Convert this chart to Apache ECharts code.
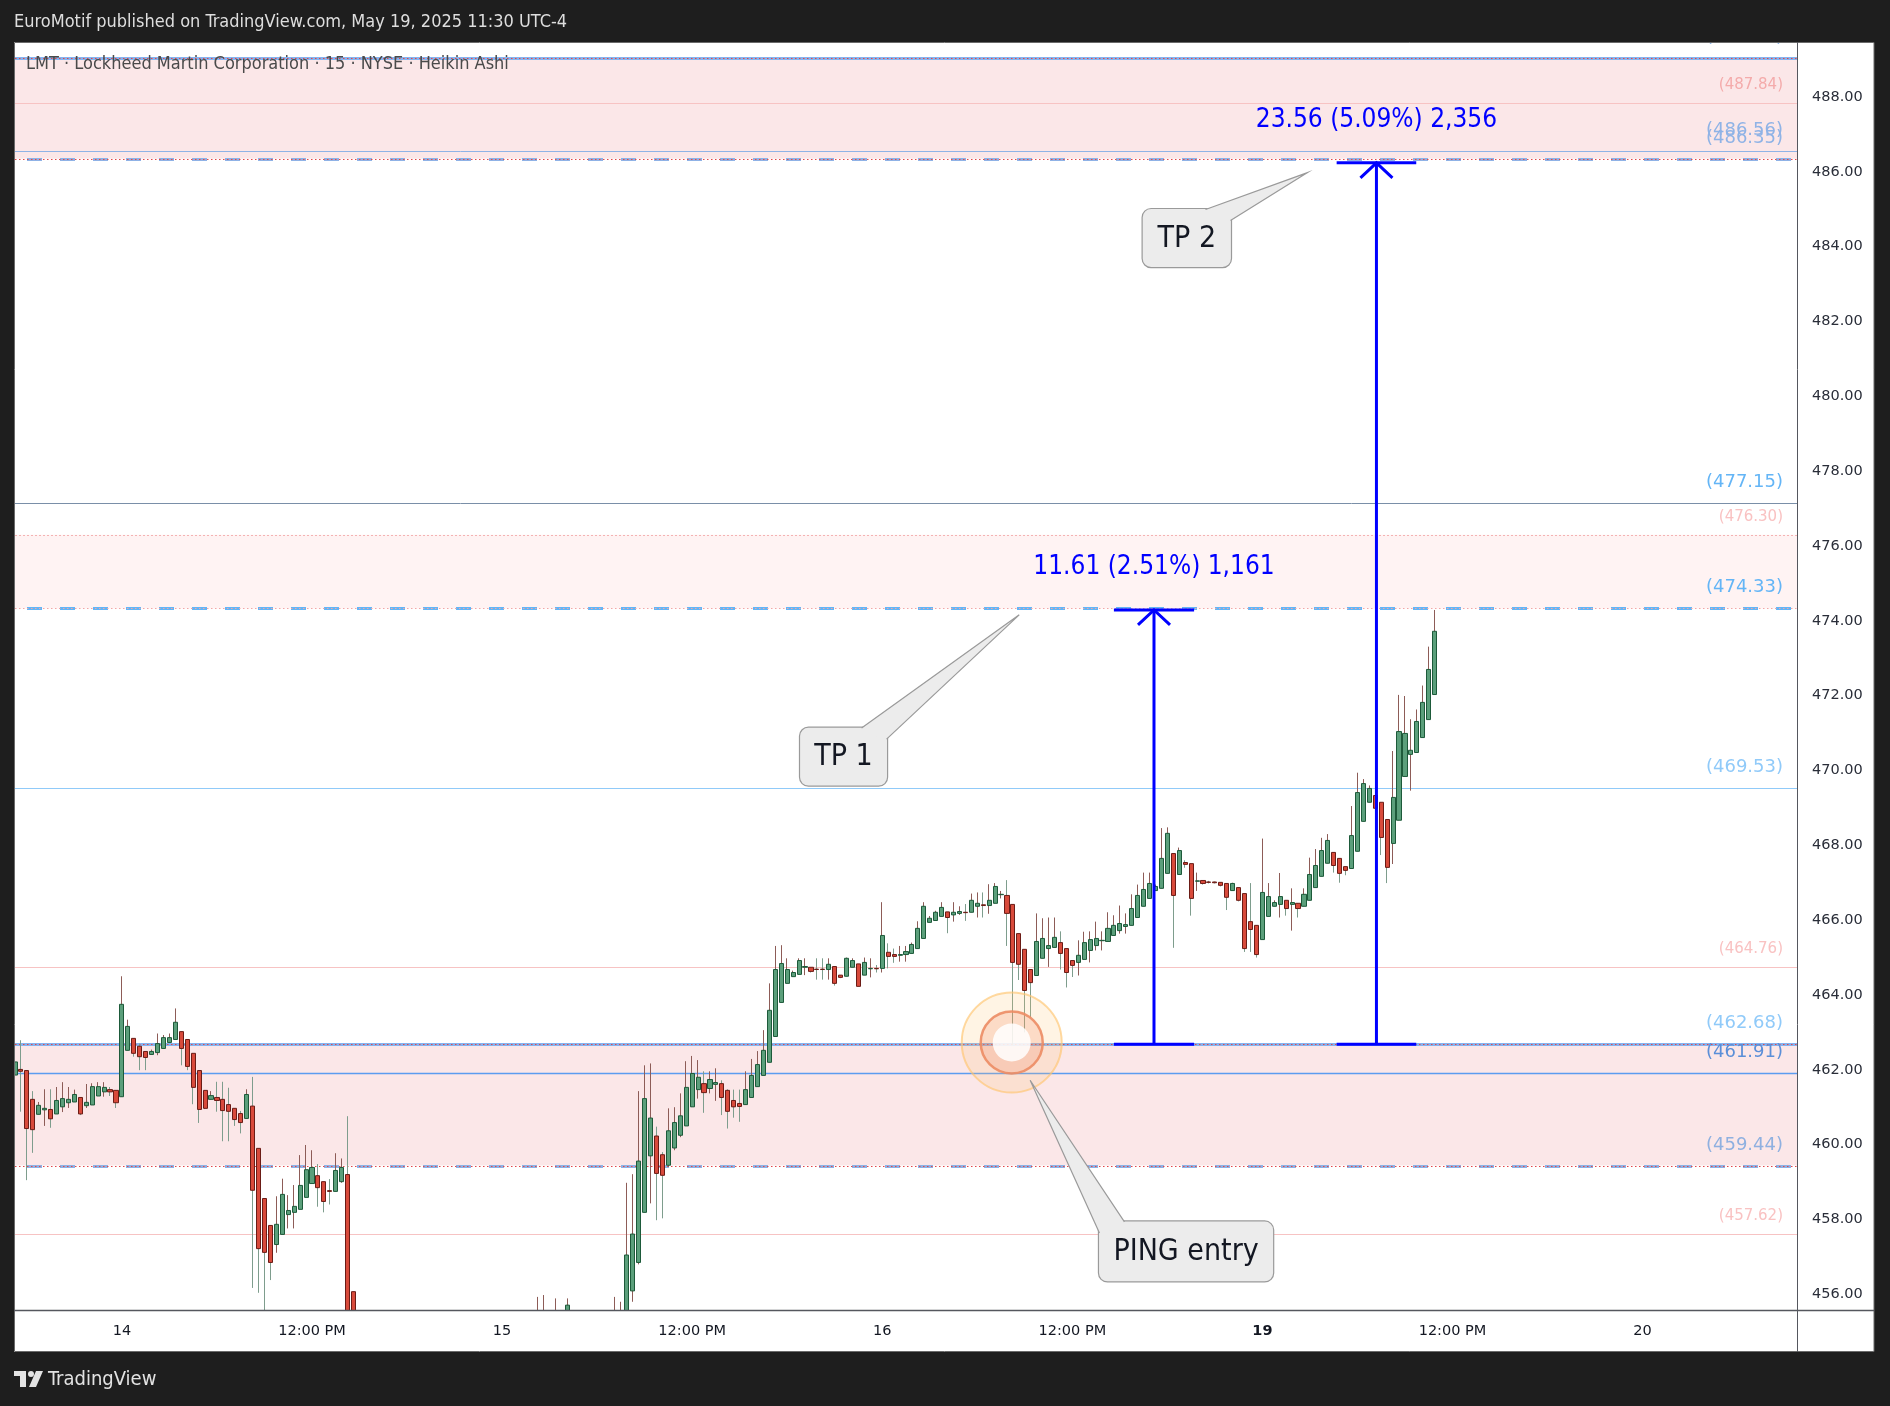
<!DOCTYPE html>
<html><head><meta charset="utf-8">
<script src="https://cdn.jsdelivr.net/npm/echarts@6/dist/echarts.min.js"></script>
<style>html,body{margin:0;padding:0;background:#1e1e1e;}#c{width:1890px;height:1406px;}</style>
</head><body><div id="c"></div>
<script>
// ---------- DATA ----------
// Heikin Ashi 15-min candles [open, close, low, high]; null = bar entirely below the visible price range
const may13 = [
 [461.86,462.21,461.80,462.30],[462.01,461.96,460.88,462.79],[461.98,460.43,459.05,461.98],[461.21,460.40,459.78,461.43],
 [460.81,461.05,460.81,461.14],[460.93,460.97,460.50,461.48],[460.94,460.69,460.45,461.48],[460.82,461.18,460.82,461.54],
 [461.01,461.23,460.87,461.67],[461.12,461.21,460.98,461.54],[461.14,461.34,461.14,461.47],[461.26,460.82,460.79,461.26],
 [461.04,461.13,460.98,461.62],[461.06,461.55,461.06,461.64],[461.30,461.55,461.30,461.67],[461.41,461.53,461.28,461.67],
 [461.47,461.41,461.30,461.54],[461.45,461.12,460.98,461.45]
];
const may14 = [
 [461.28,463.75,461.28,464.50],[462.52,463.16,462.52,463.34],[462.84,462.44,462.35,462.84],[462.63,462.35,461.99,462.70],
 [462.49,462.33,461.99,462.49],[462.41,462.49,462.41,462.54],[462.46,462.70,462.39,462.97],[462.57,462.86,462.57,462.93],
 [462.73,462.86,462.73,462.97],[462.81,463.27,462.81,463.64],[463.02,462.57,462.12,463.02],[462.81,462.09,461.99,462.81],
 [462.44,461.53,461.08,462.44],[461.98,460.94,460.58,461.98],[461.45,460.97,460.95,461.45],[461.21,461.31,461.21,461.43],
 [461.26,461.18,460.88,461.68],[461.21,460.91,460.09,461.68],[461.07,460.89,460.09,461.52],[460.97,460.67,460.50,460.97],
 [460.83,460.59,460.30,460.90],[460.70,461.34,460.70,461.48],[461.03,458.78,456.17,461.81],[459.90,457.22,456.04,459.90],
 [458.56,457.12,455.40,458.56],[457.84,456.85,456.38,457.84],[457.33,457.87,457.11,458.62],[457.60,458.67,457.60,459.09],
 [458.13,458.24,457.76,458.65],[458.19,458.35,457.76,458.92],[458.27,458.91,458.27,459.72],[458.59,459.33,458.59,459.99],
 [458.96,459.39,458.96,459.85],[459.17,458.85,458.34,459.48],[459.01,458.48,458.19,459.01],[458.77,458.75,458.40,459.08],
 [458.75,459.31,458.75,459.77],[459.01,459.39,458.98,459.63],[459.20,452.94,452.00,460.76],[456.07,452.00,451.00,456.07],
 null,null,null,null,null,null,null,null,null,null,null,null,
 null,null,null,null,null,null,null,null,null,null,null,null
];
const may15 = [
 null,null,null,null,null,null,
 [454.80,455.20,454.50,455.93],[455.00,455.30,454.80,455.98],null,[455.10,455.40,454.90,455.89],null,
 [455.00,455.71,454.90,455.89],null,null,null,null,null,null,null,
 [454.90,455.30,454.60,455.93],[455.00,455.40,454.80,455.80],
 [455.13,457.05,455.00,458.98],[456.09,457.61,455.80,459.21],[456.85,459.56,456.80,461.43],[458.19,461.23,458.19,462.12],
 [459.70,460.71,458.43,462.17],[460.23,459.23,457.98,460.48],[459.73,459.18,458.03,459.80],[459.45,460.37,459.40,460.97],
 [459.91,460.59,459.85,461.00],[460.25,460.77,460.20,461.37],[460.50,461.53,460.50,462.23],[461.01,461.90,461.01,462.37],
 [461.47,461.80,461.23,462.26],[461.63,461.39,460.85,461.96],[461.50,461.74,461.37,461.96],[461.61,461.66,461.17,462.04],
 [461.63,461.26,460.79,461.72],[461.45,460.89,460.43,461.48],[461.18,461.01,460.72,461.47],[461.10,461.02,460.61,461.47],
 [461.07,461.47,461.07,461.96],[461.26,461.85,461.26,462.29],[461.55,462.14,461.55,462.50],[461.85,462.52,461.85,463.06],
 [462.20,463.59,462.20,464.31],[462.89,464.68,462.89,465.31],[463.80,464.84,463.80,465.33],[464.31,464.68,464.31,464.98],
 [464.49,464.60,464.49,464.65],[464.55,464.92,464.55,464.98],[464.74,464.76,464.53,464.98],[464.74,464.63,464.60,464.74],
 [464.69,464.68,464.41,464.98],[464.69,464.68,464.41,464.98],[464.68,464.82,464.41,464.98],[464.76,464.31,464.25,464.76],
 [464.53,464.47,464.45,464.53],[464.50,464.98,464.50,465.00],[464.74,464.92,464.74,464.98],[464.83,464.23,464.23,464.83],
 [464.53,464.87,464.53,465.00],[464.70,464.71,464.47,464.98],[464.71,464.70,464.60,464.80]
];
const may16 = [
 [464.71,465.59,464.60,466.48],[465.14,465.03,464.71,465.38],[465.08,465.03,464.86,465.24],[465.06,465.08,464.89,465.31],
 [465.08,465.16,464.89,465.31],[465.11,465.35,465.11,465.40],[465.24,465.78,465.24,465.97],[465.51,466.37,465.51,466.48],
 [465.94,466.05,465.94,466.11],[465.99,466.21,465.99,466.25],[466.10,466.34,466.10,466.48],[466.22,466.07,465.65,466.22],
 [466.14,466.21,465.96,466.48],[466.18,466.23,466.14,466.37],[466.21,466.20,465.98,466.43],[466.21,466.53,466.21,466.71],
 [466.37,466.45,466.07,466.74],[466.41,466.39,466.07,466.74],[466.39,466.53,466.17,466.96],[466.45,466.90,466.45,466.99],
 [466.68,466.69,466.58,466.78],[466.66,466.18,465.31,467.07],[466.42,464.87,462.66,466.42],[465.64,464.82,464.40,465.64],
 [465.22,464.12,463.00,465.22],[464.68,464.33,463.40,464.68],[464.52,465.43,464.52,466.18],[464.98,465.51,464.98,466.05],
 [465.24,465.32,464.75,466.07],[465.27,465.54,465.27,466.07],[465.40,465.11,464.68,465.70],[465.24,464.60,464.20,465.24],
 [464.92,464.79,464.48,464.92],[464.87,465.06,464.52,465.46],[464.95,465.40,464.95,465.69],[465.19,465.48,464.87,465.70],
 [465.32,465.51,465.19,465.96],[465.45,465.46,465.19,465.70],[465.43,465.78,465.43,466.21],[465.59,465.86,465.59,466.13],
 [465.72,465.91,465.64,466.39],[465.83,465.88,465.64,466.18],[465.86,466.31,465.86,466.69],[466.07,466.66,466.07,466.95],
 [466.37,466.82,466.37,467.27],[466.58,466.98,466.58,467.27],[466.79,466.90,466.79,466.95],[466.85,467.65,466.85,468.46],
 [467.25,468.32,467.25,468.48],[467.78,466.66,465.26,467.78],[467.22,467.86,467.22,467.94],[467.54,467.49,467.40,467.60],
 [467.51,466.58,466.12,467.51],[467.04,467.05,466.78,467.27],[467.06,466.98,466.95,467.06],[467.02,467.01,466.98,467.05],
 [467.02,467.00,466.98,467.03],[467.01,466.93,466.90,467.01],[466.98,466.61,466.27,466.98],[466.79,466.98,466.79,467.00],
 [466.87,466.53,466.50,466.87],[466.71,465.24,465.15,466.71],[465.96,465.75,465.15,466.99],[465.86,465.08,465.00,465.86]
];
const may19 = [
 [465.48,466.74,465.48,468.18],[466.10,466.63,466.10,466.99],[466.37,466.47,466.37,466.53],[466.42,466.63,466.07,467.26],
 [466.53,466.31,466.12,466.53],[466.42,466.47,465.72,466.85],[466.45,466.31,466.07,466.45],[466.37,466.69,466.37,466.85],
 [466.53,467.22,466.53,467.67],[466.87,467.46,466.87,467.90],[467.17,467.86,467.17,468.20],[467.52,468.13,467.52,468.30],
 [467.81,467.46,467.27,467.81],[467.65,467.25,467.00,467.65],[467.43,467.33,467.20,467.43],[467.38,468.26,467.38,469.05],
 [467.84,469.41,467.84,469.94],[468.64,469.65,468.64,469.77],[469.15,469.52,469.15,469.60],[469.33,468.99,468.90,469.33],
 [469.15,468.21,467.74,469.15],[468.69,467.41,466.99,468.69],[468.05,469.28,467.50,470.52],[468.67,471.04,468.67,472.02],
 [469.84,470.99,469.84,471.99],[470.43,470.54,469.46,471.37],[470.48,471.31,470.48,471.63],[470.88,471.82,470.88,472.27],
 [471.36,472.70,471.36,473.31],[472.03,473.72,472.03,474.29]
];
// time slots (15 min, 04:00-20:00 sessions), first slot = May 13 15:30
const sessionDays = ['13','14','15','16','19','20'];
const sessionSlotRange = [[46,63],[0,63],[0,63],[0,63],[0,63],[0,26]];
// x tick labels (k = slot index relative to May 14 04:00)
const xTickK = [0,32,64,96,128,160,192,224,256];
const xTickText = ['14','12:00 PM','15','12:00 PM','16','12:00 PM','19','12:00 PM','20'];
// y tick labels
const yTicks = [456,458,460,462,464,466,468,470,472,474,476,478,480,482,484,486,488];
// horizontal levels and zones
const levelValues = [489.04,487.84,486.56,486.35,477.15,476.30,474.33,469.53,464.76,462.68,461.91,459.44,457.62];
const zoneBounds = [[489.04,486.35],[476.30,474.33],[462.68,459.44]];
// measurement / annotation values
const entryPrice = 462.68;
const tp1Price = 474.29, tp2Price = 486.24;
const tp1Text = '11.61 (2.51%) 1,161';
const tp2Text = '23.56 (5.09%) 2,356';
const calloutTexts = ['TP 2','TP 1','PING entry'];

// ---------- BUILD ----------
const categories = [];
sessionDays.forEach((d, i) => {
  for (let j = sessionSlotRange[i][0]; j <= sessionSlotRange[i][1]; j++) {
    const m = 240 + j * 15, h = Math.floor(m / 60), mm = m % 60;
    categories.push('May ' + d + ' ' + String(h).padStart(2,'0') + ':' + String(mm).padStart(2,'0'));
  }
});
const OFF = 18; // category index of k = 0 (May 14 04:00)
const candles = [].concat(may13, may14, may15, may16, may19);
const EMPTY = ['-','-','-','-'];
const wickData = candles.map(d => d ? d.slice() : EMPTY);
const bodyData = candles.map(d => d ? [d[0], d[1], Math.min(d[0], d[1]), Math.max(d[0], d[1])] : EMPTY);
const tickMap = {};
xTickK.forEach((k, i) => { tickMap[k + OFF] = xTickText[i]; });

// styles (kept apart from data)
const zoneFill = ['#fbe7e8', '#fff3f3', '#fbe7e8'];
const levelStyle = ['zoneTop','pink','blueThin','zoneDash','blue477','pinkDot','blueDash','lightBlue','pink','zoneTop','blueMid','zoneDash','pink'];
const labelColor = ['#8db6ea','#f4abab','#8fb3e6','#8fb3e6','#64b5f6','#f9c2c2','#64b5f6','#90caf9','#f9c2c2','#90caf9','#5b8fd8','#8fb0e0','#f9c2c2'];
const labelSize = [18,15,18,18,18,15,18,18,15,18,18,18,15];
const anno = {
  tp1Range: [167.0, 180.5], tp2Range: [204.5, 217.9],
  circle: [149.8, 462.73],
  callouts: [
    {box: [171.75, 485.02, 186.8, 483.44], tip: [199.6, 485.98], side: 'tr'},
    {box: [114.07, 471.16, 128.9, 469.58], tip: [151.06, 474.16], side: 'tr'},
    {box: [164.4, 457.96, 193.9, 456.33], tip: [152.9, 461.72], side: 'tl'}
  ]
};
const COND = "'DejaVu Sans Condensed', Roboto, sans-serif";

function px(api, k, v) {
  const i = k + OFF, i0 = Math.floor(i), f = i - i0;
  const p0 = api.coord([i0, v]);
  if (f === 0) return p0;
  const p1 = api.coord([i0 + 1, v]);
  return [p0[0] + f * (p1[0] - p0[0]), p0[1]];
}
function L(x1, y1, x2, y2, stroke, w, dash) {
  return {type: 'line', shape: {x1, y1, x2, y2}, style: {stroke, lineWidth: w, lineDash: dash || null}};
}

function renderLevels(params, api) {
  const cs = params.coordSys;
  const x0 = cs.x, x1 = cs.x + cs.width;
  const Y = v => api.coord([0, v])[1];
  const ch = [];
  zoneBounds.forEach((b, i) => {
    const ya = Y(b[0]), yb = Y(b[1]);
    ch.push({type: 'rect', shape: {x: x0, y: ya, width: x1 - x0, height: yb - ya}, style: {fill: zoneFill[i]}});
  });
  levelValues.forEach((v, i) => {
    const y = Math.round(Y(v)) + 0.5;
    const st = levelStyle[i];
    const redDot = [1.5, 2.5];
    if (st === 'zoneTop') {
      ch.push(L(x0, y, x1, y, '#86b3ef', 3));
      ch.push(L(x0, y, x1, y, '#e2464a', 1, redDot));
    } else if (st === 'zoneDash') {
      ch.push(L(x0 + 12, y, x1, y, '#8fb2e6', 3, [15, 18]));
      ch.push(L(x0, y, x1, y, '#e2464a', 1, redDot));
    } else if (st === 'blueDash') {
      ch.push(L(x0 + 12, y, x1, y, '#64b5f6', 3, [15, 18]));
      ch.push(L(x0, y, x1, y, '#f2a6a6', 1, redDot));
    } else if (st === 'pinkDot') {
      ch.push(L(x0, y, x1, y, '#f4b3b3', 1, [2, 2]));
    } else if (st === 'pink') {
      ch.push(L(x0, y, x1, y, '#f7c3c3', 1.2));
    } else if (st === 'blueThin') {
      ch.push(L(x0, y, x1, y, '#8fb3e6', 1));
    } else if (st === 'blue477') {
      ch.push(L(x0, y, x1, y, '#7a8fa8', 1));
    } else if (st === 'lightBlue') {
      ch.push(L(x0, y, x1, y, '#90caf9', 1.2));
    } else if (st === 'blueMid') {
      ch.push(L(x0, y, x1, y, '#5b9cf0', 1.5));
    }
    ch.push({type: 'text', x: x1 - 14, y: y - (labelSize[i] > 16 ? 21 : 18.5),
      style: {text: '(' + v.toFixed(2) + ')', fill: labelColor[i], fontSize: labelSize[i], fontFamily: 'DejaVu Sans', align: 'right', verticalAlign: 'middle'}});
  });
  return {type: 'group', children: ch};
}

function renderOverlay(params, api) {
  const ch = [];
  const BLUE = '#0000ff';
  function ruler(range, top, text) {
    const pL = px(api, range[0], entryPrice), pR = px(api, range[1], entryPrice);
    const yb = pL[1], yt = px(api, range[0], top)[1];
    const xm = (pL[0] + pR[0]) / 2;
    ch.push(L(pL[0], yb, pR[0], yb, BLUE, 3));
    ch.push(L(pL[0], yt, pR[0], yt, BLUE, 3));
    ch.push(L(xm, yb, xm, yt, BLUE, 3));
    ch.push({type: 'polyline', shape: {points: [[xm - 16, yt + 15], [xm, yt], [xm + 16, yt + 15]]}, style: {stroke: BLUE, lineWidth: 3, fill: null}});
    ch.push({type: 'text', x: xm, y: yt - 43, style: {text, fill: BLUE, fontSize: 26, fontFamily: COND, align: 'center', verticalAlign: 'middle'}});
  }
  ruler(anno.tp1Range, tp1Price, tp1Text);
  ruler(anno.tp2Range, tp2Price, tp2Text);
  // entry circle
  const c = px(api, anno.circle[0], anno.circle[1]);
  ch.push({type: 'circle', shape: {cx: c[0], cy: c[1], r: 50}, style: {fill: 'rgba(255,200,120,0.20)', stroke: 'rgba(255,196,110,0.65)', lineWidth: 2}});
  ch.push({type: 'circle', shape: {cx: c[0], cy: c[1], r: 31}, style: {fill: 'rgba(238,120,80,0.20)', stroke: 'rgba(236,140,100,0.9)', lineWidth: 2.5}});
  ch.push({type: 'circle', shape: {cx: c[0], cy: c[1], r: 19}, style: {fill: 'rgba(255,255,255,0.85)'}});
  // callouts
  anno.callouts.forEach((co, i) => {
    const a = px(api, co.box[0], co.box[1]), b = px(api, co.box[2], co.box[3]);
    const t = px(api, co.tip[0], co.tip[1]);
    const bx = a[0], by = a[1], bw = b[0] - a[0], bh = b[1] - a[1];
    let p1, p2;
    if (co.side === 'tr') { p1 = [bx + bw - 26, by + 1]; p2 = [bx + bw - 1, by + 12]; }
    else { p1 = [bx + 1, by + 12]; p2 = [bx + 26, by + 1]; }
    ch.push({type: 'rect', shape: {x: bx, y: by, width: bw, height: bh, r: 9}, style: {fill: '#ececec', stroke: '#9a9a9a', lineWidth: 1.2}});
    ch.push({type: 'polygon', shape: {points: [p1, t, p2, [co.side === 'tr' ? bx + bw - 10 : bx + 10, by + 10]]}, style: {fill: '#ececec'}});
    ch.push({type: 'polyline', shape: {points: [p1, t, p2]}, style: {stroke: '#9a9a9a', lineWidth: 1.2, fill: null}});
    ch.push({type: 'text', x: bx + bw / 2, y: by + bh / 2 + 1, style: {text: calloutTexts[i], fill: '#131722', fontSize: 30, fontFamily: COND, align: 'center', verticalAlign: 'middle'}});
  });
  return {type: 'group', children: ch};
}

const chart = echarts.init(document.getElementById('c'), null, {renderer: 'canvas'});
const PL = 15, PT = 42, PR = 1797, PB = 1310, PANEL_R = 1874, PANEL_B = 1352;
chart.setOption({
  backgroundColor: '#1e1e1e',
  animation: false,
  grid: {left: PL, top: PT, width: PR - PL, height: PB - PT, containLabel: false},
  xAxis: {
    type: 'category', data: categories, boundaryGap: false, z: 150,
    axisLine: {show: false}, axisTick: {show: false}, splitLine: {show: false},
    axisLabel: {
      interval: (idx) => tickMap[idx] !== undefined,
      formatter: (val, idx) => tickMap[idx] === '19' ? '{b|19}' : (tickMap[idx] || ''),
      color: '#131722', fontSize: 14.5, fontFamily: 'DejaVu Sans', margin: 14,
      rich: {b: {fontWeight: 'bold', fontSize: 14.5, fontFamily: 'DejaVu Sans', color: '#131722'}}
    }
  },
  yAxis: {
    type: 'value', position: 'right', min: 455.58, max: 489.47, z: 150,
    axisLine: {show: false}, axisTick: {show: false}, splitLine: {show: false},
    axisLabel: {customValues: yTicks, formatter: v => v.toFixed(2), color: '#2a2e39', fontSize: 14.5, fontFamily: 'DejaVu Sans', margin: 15}
  },
  graphic: [
    {type: 'rect', z: -100, shape: {x: 14, y: PT, width: PANEL_R - 14, height: PANEL_B - PT}, style: {fill: '#ffffff'}},
    // covers that clip candles to the plot area
    {type: 'rect', z: 120, shape: {x: 14, y: PB + 1, width: PANEL_R - 14, height: PANEL_B - PB - 1}, style: {fill: '#ffffff'}},
    {type: 'rect', z: 120, shape: {x: 0, y: PANEL_B, width: 1890, height: 1406 - PANEL_B}, style: {fill: '#1e1e1e'}},
    {type: 'rect', z: 120, shape: {x: 0, y: PT, width: 14, height: PANEL_B - PT}, style: {fill: '#1e1e1e'}},
    {type: 'rect', z: 125, shape: {x: 14.5, y: PT + 0.5, width: PANEL_R - 14.5, height: PANEL_B - PT - 1}, style: {fill: null, stroke: '#6a6a6a', lineWidth: 1}},
    {type: 'line', z: 130, shape: {x1: PR + 0.5, y1: PT, x2: PR + 0.5, y2: PANEL_B}, style: {stroke: '#55575e', lineWidth: 1}},
    {type: 'line', z: 130, shape: {x1: 14, y1: PB + 0.5, x2: PANEL_R, y2: PB + 0.5}, style: {stroke: '#55575e', lineWidth: 1.5}},
    {type: 'rect', z: 140, shape: {x: 0, y: 0, width: 1890, height: PT}, style: {fill: '#1e1e1e'}},
    {type: 'text', z: 141, x: 14, y: 22, style: {text: 'EuroMotif published on TradingView.com, May 19, 2025 11:30 UTC-4', fill: '#dedede', fontSize: 18, fontFamily: COND, verticalAlign: 'middle'}},
    {type: 'text', z: 110, x: 26, y: 64, style: {text: 'LMT · Lockheed Martin Corporation · 15 · NYSE · Heikin Ashi', fill: '#4a4a4a', fontSize: 18, fontFamily: COND, verticalAlign: 'middle'}},
    // TradingView logo
    {type: 'rect', z: 141, shape: {x: 14, y: 1371, width: 12, height: 5}, style: {fill: '#e3e3e3'}},
    {type: 'rect', z: 141, shape: {x: 20, y: 1371, width: 6, height: 16}, style: {fill: '#e3e3e3'}},
    {type: 'circle', z: 141, shape: {cx: 31, cy: 1374, r: 3}, style: {fill: '#e3e3e3'}},
    {type: 'polygon', z: 141, shape: {points: [[36, 1371], [43, 1371], [36, 1387], [29, 1387]]}, style: {fill: '#e3e3e3'}},
    {type: 'text', z: 141, x: 48, y: 1380, style: {text: 'TradingView', fill: '#e3e3e3', fontSize: 20, fontFamily: COND, verticalAlign: 'middle'}}
  ],
  series: [
    {type: 'custom', name: 'levels', z: 1, silent: true, renderItem: renderLevels, data: [[0, 470]]},
    {type: 'candlestick', name: 'wicks', z: 2, silent: true, clip: true, barWidth: 1, data: wickData,
      itemStyle: {color: 'rgba(0,0,0,0)', color0: 'rgba(0,0,0,0)', borderColor: '#8d5c57', borderColor0: '#7e9d8d', borderWidth: 1}},
    {type: 'candlestick', name: 'LMT', z: 3, silent: true, clip: true, barWidth: 4.6, data: bodyData,
      itemStyle: {color: '#5b9f7b', color0: '#d84a3b', borderColor: '#1d5a3a', borderColor0: '#6b1c16', borderWidth: 1}},
    {type: 'custom', name: 'overlay', z: 5, silent: true, renderItem: renderOverlay, data: [[0, 470]]}
  ]
});
</script></body></html>
